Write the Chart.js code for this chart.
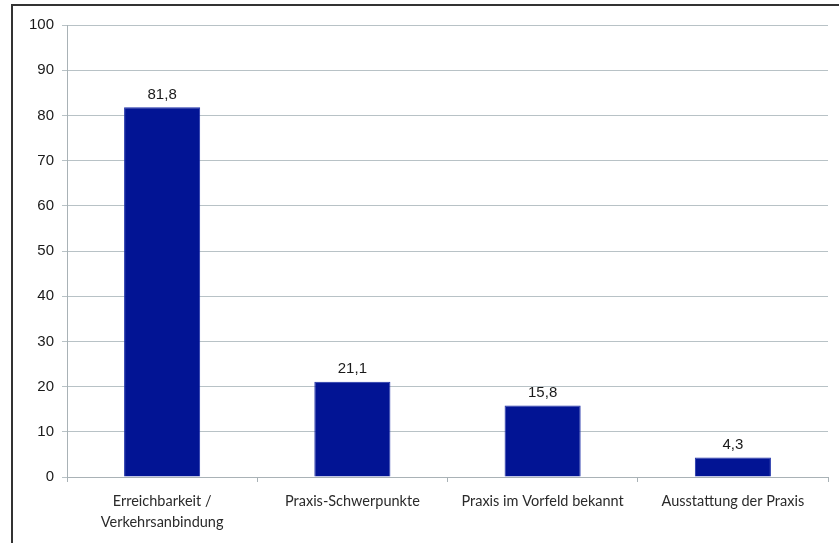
<!DOCTYPE html>
<html>
<head>
<style>
    body { margin: 0; background: #fff; }
    #wrap { position: relative; width: 839px; height: 543px; }
    #frame { position: absolute; left: 11px; top: 4px; right: 0; bottom: 0; border-top: 2px solid #333; border-left: 2px solid #333; }
    canvas { position: absolute; left: 0; top: 0; }
</style>
</head>
<body>
<div id="wrap">
    <div id="frame"></div>
    <canvas id="myChart" width="839" height="543"></canvas>
</div>
<script src="https://cdn.jsdelivr.net/npm/chart.js@4.4.1/dist/chart.umd.min.js"></script>
<script>
    const categories = [
        ["Erreichbarkeit /", "Verkehrsanbindung"],
        "Praxis-Schwerpunkte",
        "Praxis im Vorfeld bekannt",
        "Ausstattung der Praxis"
    ];
    const values = [81.8, 21.1, 15.8, 4.3];
    const yTicks = [0, 10, 20, 30, 40, 50, 60, 70, 80, 90, 100];

    const gridColor = "#b8c2c6";

    // Werte über den Balken (mit Komma)
    const valueLabels = {
        id: "valueLabels",
        afterDatasetsDraw(chart) {
            const ctx = chart.ctx;
            const meta = chart.getDatasetMeta(0);
            ctx.save();
            ctx.font = "15px 'Liberation Sans', Arial, sans-serif";
            ctx.fillStyle = "#1a1a1a";
            ctx.textAlign = "center";
            ctx.textBaseline = "bottom";
            meta.data.forEach((bar, i) => {
                ctx.fillText(values[i].toFixed(1).replace(".", ","), bar.x, bar.y - 5);
            });
            ctx.restore();
        }
    };

    new Chart("myChart", {
        type: "bar",
        data: {
            labels: categories,
            datasets: [{
                data: values,
                backgroundColor: "#021494",
                borderColor: "#1d2fa8",
                borderWidth: 1,
                categoryPercentage: 0.8,
                barPercentage: 0.5
            }]
        },
        options: {
            responsive: false,
            animation: false,
            layout: { padding: { left: 0, right: 11, top: 25, bottom: 0 } },
            plugins: { legend: { display: false }, tooltip: { enabled: false } },
            scales: {
                y: {
                    min: 0,
                    max: 100,
                    afterBuildTicks(axis) { axis.ticks = yTicks.map(v => ({ value: v })); },
                    afterFit(axis) { axis.width = 67; },
                    grid: { color: gridColor, lineWidth: 1, tickLength: 5 },
                    border: { color: "#a9b2b6" },
                    ticks: {
                        color: "#1a1a1a",
                        padding: 8,
                        font: { family: "'Liberation Sans', Arial, sans-serif", size: 15 }
                    }
                },
                x: {
                    afterFit(axis) { axis.height = 66; },
                    grid: { offset: true, drawOnChartArea: false, color: "#a9b2b6", tickLength: 5 },
                    border: { color: "#a9b2b6" },
                    ticks: {
                        color: "#2a2a2a",
                        padding: 9,
                        maxRotation: 0,
                        font: { family: "Lato, 'Open Sans', sans-serif", size: 14.5, lineHeight: 1.45 }
                    }
                }
            }
        },
        plugins: [valueLabels]
    });
</script>
</body>
</html>
